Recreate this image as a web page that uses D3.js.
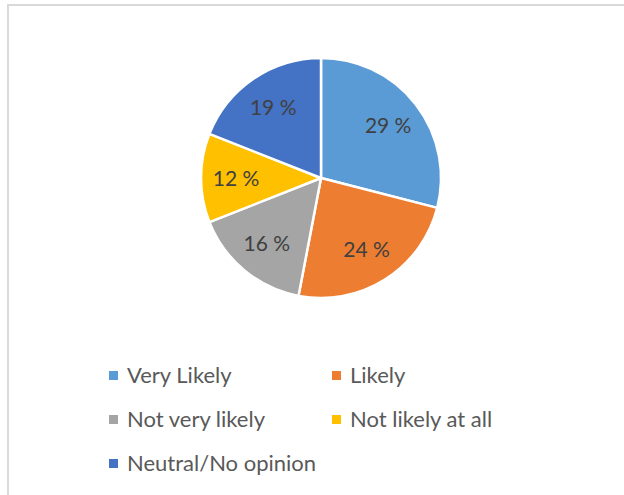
<!DOCTYPE html>
<html><head><meta charset="utf-8">
<script src="https://cdnjs.cloudflare.com/ajax/libs/d3/7.8.5/d3.min.js"></script>
<style>html,body{margin:0;padding:0;background:#fff;}svg{display:block;}</style>
</head><body><svg id="c" width="624" height="495"></svg>
<script>
const categories = ["Very Likely","Likely","Not very likely","Not likely at all","Neutral/No opinion"];
const values = [29, 24, 16, 12, 19];
const labels = ["29 %","24 %","16 %","12 %","19 %"];
const colors = ["#5B9BD5","#ED7D31","#A5A5A5","#FFC000","#4472C4"];

const svg = d3.select("#c");
svg.append("rect").attr("x",8).attr("y",5).attr("width",660).attr("height",540)
  .attr("fill","none").attr("stroke","#d9d9d9").attr("stroke-width",2);

const cx = 321, cy = 178, r = 120;
const g = svg.append("g").attr("transform",`translate(${cx},${cy})`);
const pie = d3.pie().sort(null).value(d=>d)(values);
const arc = d3.arc().innerRadius(0).outerRadius(r);
const lab = d3.arc().innerRadius(85).outerRadius(85);
g.selectAll("path").data(pie).join("path").attr("d",arc)
  .attr("fill",(d,i)=>colors[i]).attr("stroke","#fff").attr("stroke-width",2.5).attr("stroke-linejoin","round");
g.selectAll("text").data(pie).join("text")
  .attr("transform",d=>`translate(${lab.centroid(d)})`)
  .attr("text-anchor","middle").attr("dy","0.36em")
  .attr("font-family","Lato, 'Open Sans', sans-serif").attr("font-size",21)
  .attr("fill","#404040").text((d,i)=>labels[i]);

const lx = d3.scaleOrdinal().domain([0,1]).range([109,332]);
const ly = d3.scaleLinear().domain([0,1]).range([375.5,419.5]);
const lg = svg.append("g");
categories.forEach((c,i)=>{
  const col = i%2, row = Math.floor(i/2);
  const x = lx(col), y = ly(row);
  lg.append("rect").attr("x",x).attr("y",y-4.5).attr("width",9).attr("height",9).attr("fill",colors[i]);
  lg.append("text").attr("x",x+18).attr("y",y).attr("dy","0.36em")
    .attr("font-family","Lato, 'Open Sans', sans-serif").attr("font-size",22)
    .attr("fill","#595959").text(c);
});
</script></body></html>
